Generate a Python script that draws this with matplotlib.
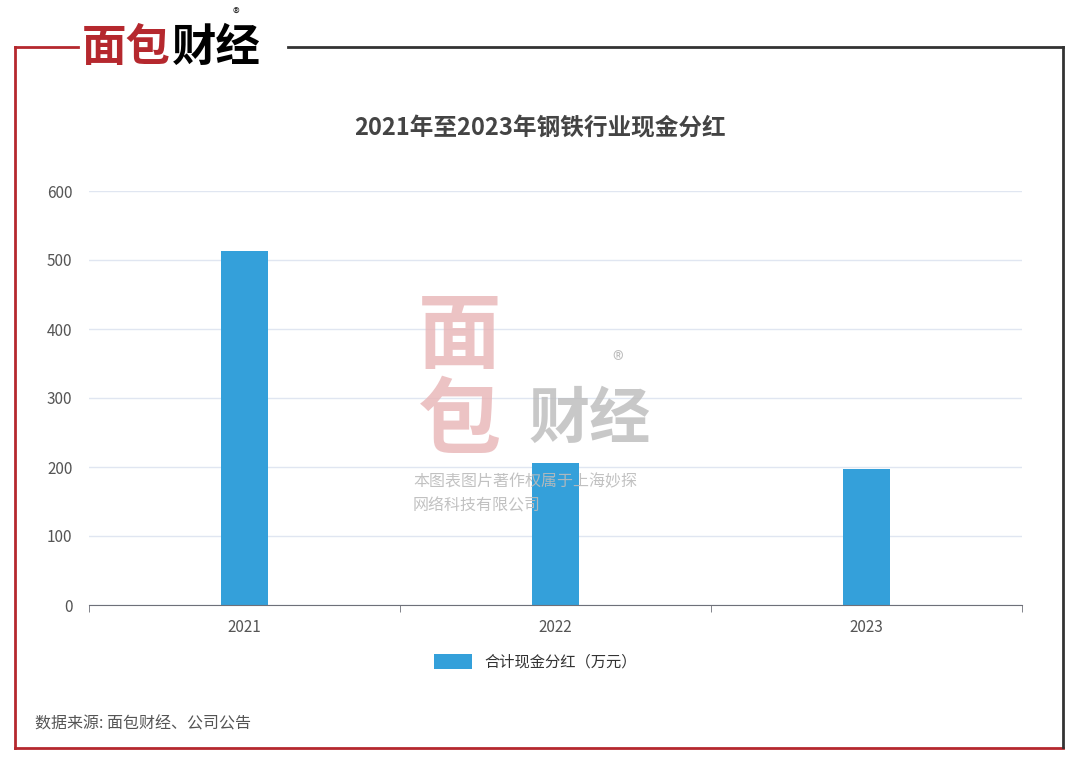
import matplotlib.pyplot as plt
from matplotlib.lines import Line2D

plt.rcParams['font.family'] = ['Noto Sans CJK SC', 'DejaVu Sans']

years = ['2021', '2022', '2023']
dividends = [513, 206, 197]
yticks = [0, 100, 200, 300, 400, 500, 600]

W, H = 1080, 764
fig = plt.figure(figsize=(W / 100, H / 100), dpi=100)

def fx(px):
    return px / W

def fy(py):
    return 1 - py / H

# frame
red = '#b5282e'
dark = '#333333'
fig.add_artist(Line2D([fx(15), fx(15)], [fy(47), fy(748)], color=red, lw=2))
fig.add_artist(Line2D([fx(15), fx(1063)], [fy(748), fy(748)], color=red, lw=2))
fig.add_artist(Line2D([fx(15), fx(78)], [fy(47), fy(47)], color=red, lw=2))
fig.add_artist(Line2D([fx(288), fx(1063)], [fy(47), fy(47)], color=dark, lw=2))
fig.add_artist(Line2D([fx(1063), fx(1063)], [fy(47), fy(747)], color=dark, lw=2))

# logo
fig.text(fx(82), fy(48), '面包', color=red, fontsize=32, fontweight='bold', va='center', ha='left')
fig.text(fx(172), fy(48), '财经', color='black', fontsize=32, fontweight='bold', va='center', ha='left')
fig.text(fx(236), fy(15), '®', color=dark, fontsize=10, ha='center', va='center')

fig.text(fx(540), fy(128), '2021年至2023年钢铁行业现金分红', fontsize=17, fontweight='bold',
         color='#444444', ha='center', va='center')

ax = fig.add_axes([fx(89), fy(605), fx(1022) - fx(89), fy(191) - fy(605)])
x = range(len(years))
ax.bar(x, dividends, width=0.15, color='#34a0da', zorder=2, label='合计现金分红（万元）')
ax.set_xlim(-0.5, 2.5)
ax.set_ylim(0, 600)
ax.set_yticks(yticks)
ax.set_xticks(list(x))
ax.set_xticklabels(years)
ax.set_xticks([-0.5, 0.5, 1.5, 2.5], minor=True)
ax.tick_params(axis='x', which='major', length=0, colors='#555555', labelsize=11, pad=10)
ax.tick_params(axis='x', which='minor', length=5, color='#6e7079')
ax.tick_params(axis='y', length=0, colors='#555555', labelsize=11, pad=12)
ax.grid(axis='y', color='#e0e6f1', lw=1, zorder=0)
for s in ['top', 'right', 'left']:
    ax.spines[s].set_visible(False)
ax.spines['bottom'].set_color('#6e7079')

fig.legend(loc='center', bbox_to_anchor=(fx(535), fy(662)), frameon=False, fontsize=11,
           handlelength=2.5, handleheight=1.2, labelcolor='#333333')

# watermark
fig.text(fx(460), fy(380), '面\n包', color='#e8b4b6', fontsize=60, fontweight='bold',
         ha='center', va='center', alpha=0.8, linespacing=1.0)
fig.text(fx(590), fy(420), '财经', color='#bbbbbb', fontsize=44, fontweight='bold',
         ha='center', va='center', alpha=0.8)
fig.text(fx(618), fy(362), '®', color='#bbbbbb', fontsize=16, ha='center', va='center')
fig.text(fx(413), fy(494), '本图表图片著作权属于上海妙探\n网络科技有限公司', color='#bbbbbb',
         fontsize=11.5, ha='left', va='center', alpha=0.9, linespacing=1.5)

fig.text(fx(35), fy(724), '数据来源: 面包财经、公司公告', fontsize=11.5, color='#555555',
         ha='left', va='center')

fig.savefig('out.png', dpi=100)
